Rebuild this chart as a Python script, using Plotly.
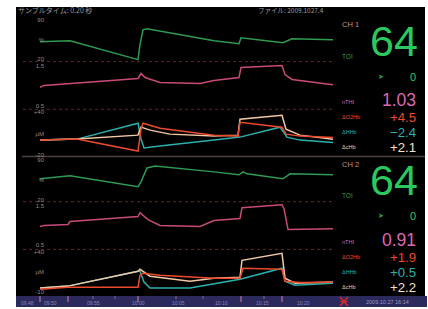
import plotly.graph_objects as go

W, H = 428, 309

# ---------------- data (time in minutes from start) ----------------
# CH1
toi1_t = [0.0, 3.0, 9.8, 10.0, 10.3, 10.7, 17.4, 19.9, 20.1, 24.3, 25.2, 29.3]
toi1_v = [51.0, 52.8, 19.1, 45.7, 72.3, 74.1, 52.8, 47.5, 58.1, 49.2, 56.3, 54.6]

nthi1_t = [0.0, 0.4, 9.8, 10.1, 10.5, 12.0, 16.0, 17.4, 19.9, 20.1, 24.2, 24.5, 25.2, 29.3]
nthi1_v = [0.963, 1.012, 1.183, 1.305, 1.207, 1.085, 1.061, 1.134, 1.207, 1.451, 1.500, 1.280, 1.159, 1.03]

o2hb1_t = [0.0, 3.7, 9.8, 10.1, 10.3, 12.0, 17.4, 19.8, 20.0, 24.2, 24.6, 26.0, 29.3]
o2hb1_v = [0.9, 2.3, -14.4, 16.3, 24.7, 17.7, 7.9, 6.5, 26.0, 19.1, 9.3, 6.5, 4.5]

hhb1_t = [0.0, 3.7, 9.8, 10.1, 10.4, 12.0, 17.4, 20.0, 24.0, 24.7, 26.0, 29.3]
hhb1_v = [0.9, 2.3, 24.7, 2.3, -10.2, -7.4, 0.9, 5.1, 19.1, 5.1, 0.9, -2.4]

chb1_t = [0.0, 3.7, 9.8, 10.1, 11.0, 13.0, 17.4, 19.8, 20.0, 24.2, 24.6, 26.0, 29.3]
chb1_v = [0.9, 2.3, 7.9, 19.1, 14.9, 9.3, 6.5, 7.9, 30.2, 35.8, 16.3, 7.9, 2.1]

# CH2
toi2_t = [0.0, 3.0, 9.8, 10.1, 10.7, 11.5, 17.4, 19.9, 20.3, 20.7, 24.3, 25.0, 29.3]
toi2_v = [56.8, 62.0, 42.8, 51.5, 76.0, 79.5, 69.0, 63.8, 69.0, 65.5, 56.8, 65.5, 64.0]

nthi2_t = [0.0, 0.4, 2.8, 3.0, 9.8, 10.0, 10.8, 12.0, 16.0, 17.4, 20.0, 20.2, 24.2, 24.4, 24.8, 29.3]
nthi2_v = [0.968, 0.994, 1.019, 1.095, 1.222, 1.323, 1.146, 0.994, 0.968, 1.120, 1.171, 1.449, 1.525, 1.424, 0.892, 0.91]

o2hb2_t = [0.0, 2.8, 9.8, 10.0, 10.3, 12.0, 17.4, 20.0, 20.3, 24.2, 24.5, 26.0, 29.3]
o2hb2_v = [-6.9, -4.4, -4.4, 10.6, 13.1, 10.6, 6.9, 6.9, 19.4, 18.1, 3.1, 1.3, 1.9]

hhb2_t = [0.0, 2.8, 9.8, 10.0, 10.4, 11.0, 15.0, 17.4, 20.0, 24.2, 24.5, 25.5, 29.3]
hhb2_v = [-5.6, -3.1, 15.6, 15.6, 1.9, -5.6, -5.6, -0.6, 5.6, 19.4, 3.1, -1.9, 0.5]

chb2_t = [0.0, 2.8, 9.8, 10.0, 11.0, 15.0, 17.4, 20.0, 20.2, 24.2, 24.5, 25.5, 29.3]
chb2_v = [-5.6, -3.1, 15.6, 18.1, 9.4, 3.1, 6.9, 8.1, 29.4, 38.1, 6.9, 0.6, 2.2]

# axis tick labels
toi_tickvals = [20, 55, 90]
toi_ticktext = ["20", "%", "90"]
nthi_tickvals = [0.5, 1.5]
nthi_ticktext = ["0.5", "1.5"]
hb1_tickvals = [-20, 10, 40]
hb1_ticktext = ["-20", "μM", "+40"]
hb2_tickvals = [-10, 15, 40]
hb2_ticktext = ["-10", "μM", "+40"]

# readouts
ch_names = ["CH 1", "CH 2"]
toi_now = ["64", "64"]
trend_now = ["0", "0"]
nthi_now = ["1.03", "0.91"]
o2hb_now = ["+4.5", "+1.9"]
hhb_now = ["−2.4", "+0.5"]
chb_now = ["+2.1", "+2.2"]

time_labels = ["09:48", "09:50", "09:55", "10:00", "10:05", "10:10", "10:15", "10:20"]
time_label_px = [28, 50, 93, 138, 178, 221, 262, 303]
event_px = [40, 68, 138, 241, 282]
minor_px = [93, 115, 176, 203, 264]

# ---------------- styling ----------------
GREEN_TR = "#2f9a52"
GREEN = "#2bc85e"
MAG_TR = "#c84a7a"
MAG = "#dc68b4"
RED = "#ec4a2e"
TEAL = "#2bb0ac"
PEACH = "#f3c8a4"
PEACH_V = "#f7e0cc"
CHC = "#c8907c"
GREY = "#8c8c8c"
FONT = "Liberation Sans, Arial, sans-serif"


def fx(px):
    return px / W


def fy(py):
    return 1 - py / H


# panel geometry: top py, bottom py, (val, py) label top, (val, py) label bottom
panels = {
    "y":  (17, 62, (90, 20), (20, 59.5)),
    "y2": (62, 110, (1.5, 66), (0.5, 107)),
    "y3": (110, 157, (40, 113), (-20, 156)),
    "y4": (158, 203, (90, 161), (20, 201)),
    "y5": (203, 251, (1.5, 207), (0.5, 246.5)),
    "y6": (251, 297, (40, 253.5), (-10, 293.5)),
}
ticks = {
    "y": (toi_tickvals, toi_ticktext),
    "y2": (nthi_tickvals, nthi_ticktext),
    "y3": (hb1_tickvals, hb1_ticktext),
    "y4": (toi_tickvals, toi_ticktext),
    "y5": (nthi_tickvals, nthi_ticktext),
    "y6": (hb2_tickvals, hb2_ticktext),
}

fig = go.Figure()

series = [
    (toi1_t, toi1_v, GREEN_TR, "y"),
    (nthi1_t, nthi1_v, MAG_TR, "y2"),
    (hhb1_t, hhb1_v, TEAL, "y3"),
    (chb1_t, chb1_v, PEACH, "y3"),
    (o2hb1_t, o2hb1_v, RED, "y3"),
    (toi2_t, toi2_v, GREEN_TR, "y4"),
    (nthi2_t, nthi2_v, MAG_TR, "y5"),
    (hhb2_t, hhb2_v, TEAL, "y6"),
    (chb2_t, chb2_v, PEACH, "y6"),
    (o2hb2_t, o2hb2_v, RED, "y6"),
]
for t, v, c, ya in series:
    fig.add_trace(go.Scatter(x=t, y=v, mode="lines", xaxis="x", yaxis=ya,
                             line=dict(color=c, width=1.5), hoverinfo="skip",
                             showlegend=False))

layout = dict(
    width=W, height=H,
    margin=dict(l=0, r=0, t=0, b=0),
    paper_bgcolor="white",
    plot_bgcolor="rgba(0,0,0,0)",
    showlegend=False,
    xaxis=dict(domain=[fx(40), fx(333)], range=[0, 29.3], visible=False, anchor="y"),
)
for name, (top, bot, (vt, pt), (vb, pb)) in panels.items():
    scale = (vt - vb) / (pb - pt)
    r0 = vb - (bot - pb) * scale
    r1 = vt + (pt - top) * scale
    key = "yaxis" if name == "y" else "yaxis" + name[1:]
    tv, tt = ticks[name]
    layout[key] = dict(
        domain=[fy(bot), fy(top)], range=[r0, r1], anchor="x",
        showgrid=False, zeroline=False, showline=False, ticks="",
        tickvals=tv, ticktext=tt, ticklabelstandoff=-5,
        tickfont=dict(size=6, color=GREY, family=FONT),
    )
fig.update_layout(**layout)

shapes = []
# black screen and bottom bar
shapes.append(dict(type="rect", xref="paper", yref="paper", x0=fx(16), x1=fx(425),
                   y0=fy(298), y1=fy(7), fillcolor="black", line=dict(width=0), layer="below"))
shapes.append(dict(type="rect", xref="paper", yref="paper", x0=fx(16), x1=fx(427),
                   y0=fy(309), y1=fy(298), fillcolor="#2c2a5c", line=dict(width=0), layer="below"))
# dotted panel dividers
for py in [62, 110, 203, 251]:
    shapes.append(dict(type="line", xref="paper", yref="paper", x0=fx(23), x1=fx(333),
                       y0=fy(py), y1=fy(py), line=dict(color="#6a2222", width=1, dash="dot"),
                       layer="below"))
# channel separator
shapes.append(dict(type="line", xref="paper", yref="paper", x0=fx(22), x1=fx(425),
                   y0=fy(157.5), y1=fy(157.5), line=dict(color="#4e4240", width=1.5), layer="below"))
# bottom bar markers
for px in event_px:
    shapes.append(dict(type="line", xref="paper", yref="paper", x0=fx(px), x1=fx(px),
                       y0=fy(304), y1=fy(298), line=dict(color="#c88aa0", width=1)))
for px in minor_px:
    shapes.append(dict(type="line", xref="paper", yref="paper", x0=fx(px), x1=fx(px),
                       y0=fy(301), y1=fy(298), line=dict(color="#8a6a98", width=1)))
# red X icon
shapes.append(dict(type="line", xref="paper", yref="paper", x0=fx(340), x1=fx(348),
                   y0=fy(299), y1=fy(308), line=dict(color="#e02828", width=1.5)))
shapes.append(dict(type="line", xref="paper", yref="paper", x0=fx(348), x1=fx(340),
                   y0=fy(299), y1=fy(308), line=dict(color="#e02828", width=1.5)))
shapes.append(dict(type="line", xref="paper", yref="paper", x0=fx(340), x1=fx(348),
                   y0=fy(303.5), y1=fy(303.5), line=dict(color="#e02828", width=1)))
fig.update_layout(shapes=shapes)

anns = []


def ann(text, px, py, size, color, xanchor="left", family=FONT):
    anns.append(dict(text=text, x=fx(px), y=fy(py), xref="paper", yref="paper",
                     xanchor=xanchor, yanchor="middle", showarrow=False, borderpad=0,
                     font=dict(size=size, color=color, family=family)))


# header
ann("サンプルタイム: 0.20 秒", 17, 10, 7, "#9a9a9a", family="Noto Sans CJK JP")
ann("ファイル: 2009.1027.4", 257, 10, 6.5, "#9a9a9a", family="Noto Sans CJK JP")

# readouts
rows = [
    (25, 41, 57, 77, 103, 100.5, 118, 133, 148),
    (166, 181, 197, 217, 244, 241.5, 259, 274, 289),
]
for i, r in enumerate(rows):
    ch_y, big_y, toi_y, tr_y, nl_y, nv_y, o_y, h_y, c_y = r
    ann(ch_names[i], 341, ch_y, 7.5, CHC)
    ann(toi_now[i], 394, big_y, 43, GREEN, xanchor="center")
    ann("TOI", 341, toi_y, 6.5, GREEN_TR)
    ann("➤", 381, tr_y, 7, GREEN_TR, xanchor="center", family="DejaVu Sans")
    ann(trend_now[i], 417, tr_y, 11, GREEN, xanchor="right")
    ann("nTHI", 341, nl_y, 5.5, MAG)
    ann(nthi_now[i], 417, nv_y, 17.5, MAG, xanchor="right")
    ann("ΔO2Hb", 341, o_y, 5.5, RED)
    ann(o2hb_now[i], 417, o_y, 13.2, RED, xanchor="right")
    ann("ΔHHb", 341, h_y, 5.5, TEAL)
    ann(hhb_now[i], 417, h_y, 13.2, TEAL, xanchor="right")
    ann("ΔcHb", 341, c_y, 5.5, PEACH)
    ann(chb_now[i], 417, c_y, 13.2, PEACH_V, xanchor="right")

# bottom bar text
for lab, px in zip(time_labels, time_label_px):
    ann(lab, px, 304.5, 5, "#8c84bc", xanchor="center")
ann("2009.10.27 16:14", 365, 303.5, 5.5, "#9c9ac8")

fig.update_layout(annotations=anns)
fig.write_html("out.html", config={"displayModeBar": False},
               post_script="document.body.style.margin='0';")
